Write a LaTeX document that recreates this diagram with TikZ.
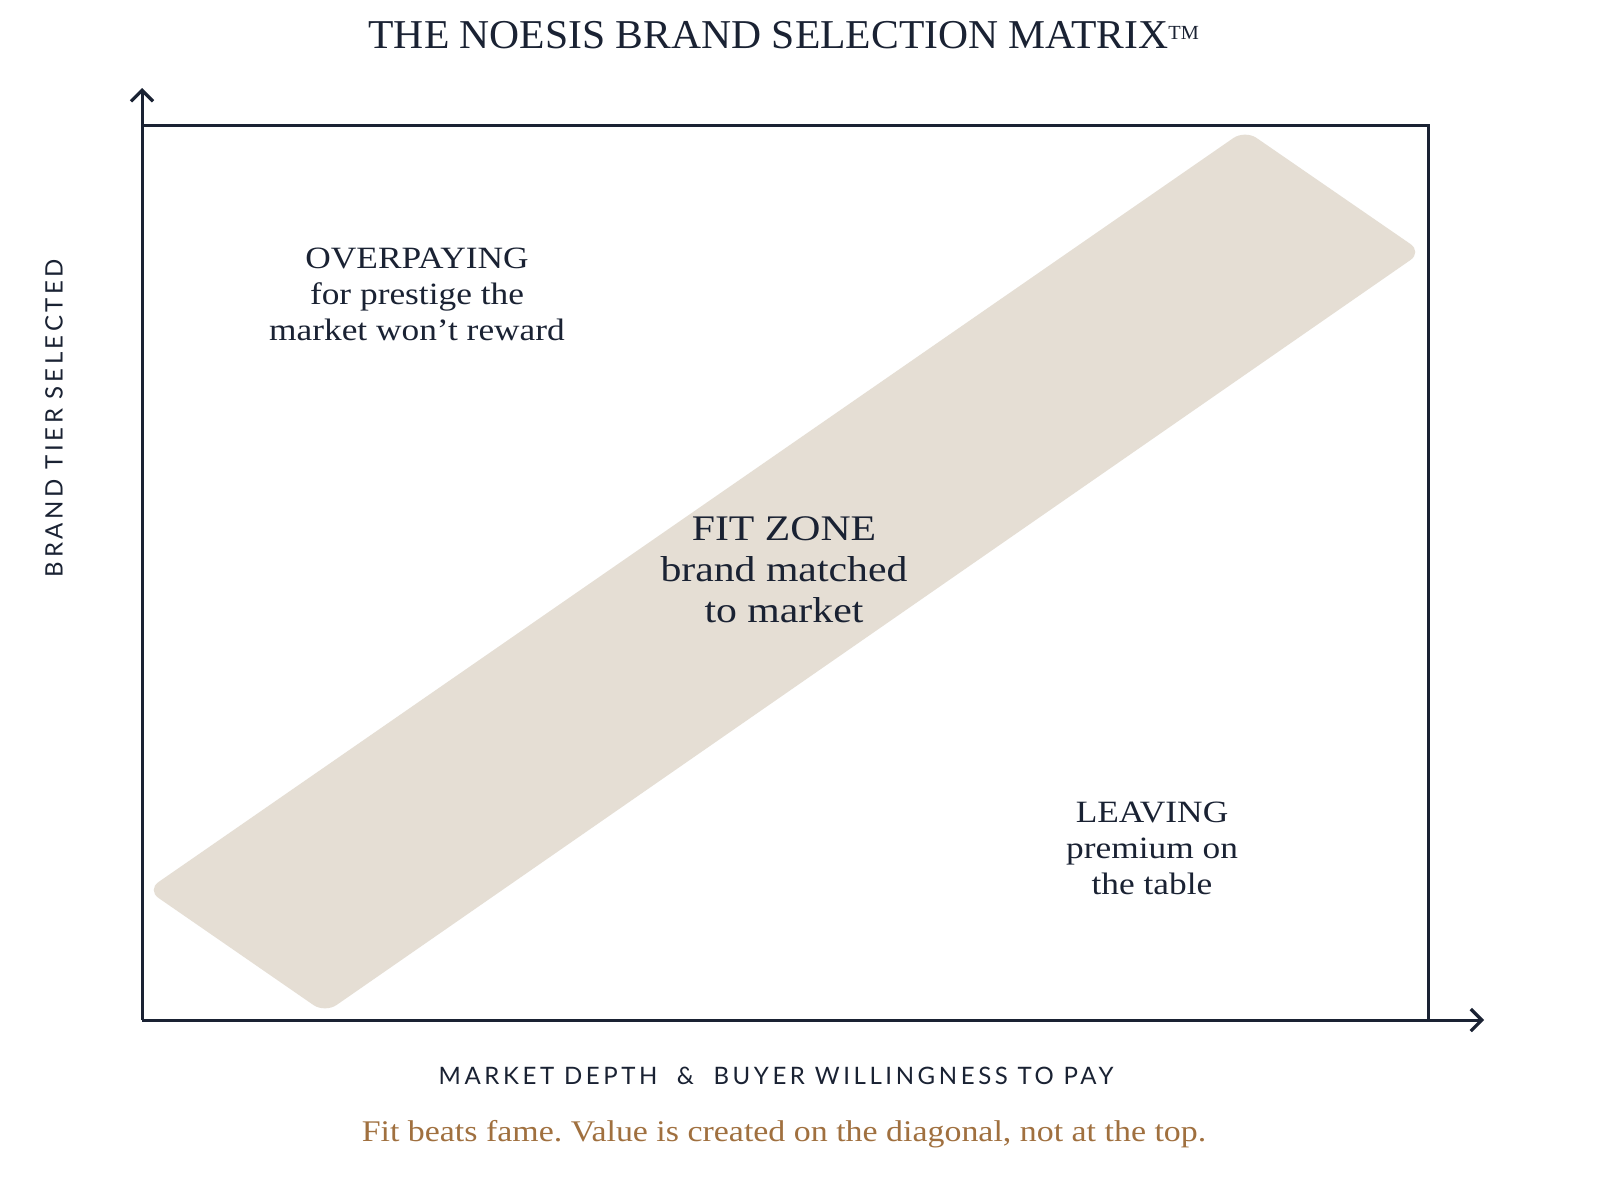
\documentclass[tikz,border=0pt]{standalone}
\usepackage{fontspec}
\setmainfont{Liberation Serif}
\newfontfamily\titleserif{Liberation Serif}[FakeStretch=1.015]
\newfontfamily\wideserif{Liberation Serif}[FakeStretch=1.14]
\newfontfamily\fitserif{Liberation Serif}[FakeStretch=1.16]
\newfontfamily\capserif{Liberation Serif}[FakeStretch=1.13]
\newfontfamily\labelsans{Lato}[LetterSpace=15]
\usetikzlibrary{arrows.meta}
\definecolor{navy}{HTML}{1A2233}
\definecolor{band}{HTML}{E5DED4}
\definecolor{capbrown}{HTML}{A0703F}
\frenchspacing
\tikzset{
  axisline/.style={line width=3pt, draw=navy},
  axisarrow/.style={axisline, -{Straight Barb[length=11pt,width=22pt,line width=3.2pt]}},
  zonetext/.style={align=center, text=navy, font=\wideserif\fontsize{31}{36}\selectfont, inner sep=0pt},
  fittext/.style={align=center, text=navy, font=\fitserif\fontsize{36}{41}\selectfont, inner sep=0pt},
  axislabel/.style={text=navy, font=\labelsans\fontsize{24}{28}\selectfont, inner sep=0pt},
}
\begin{document}
\begin{tikzpicture}[x=1pt,y=-1pt]
\useasboundingbox[fill=white] (0,0) rectangle (1600,1191);
% band
\fill[band, rounded corners=14pt] (147,890) -- (1245,130) -- (1422,252) -- (325,1013) -- cycle;
% frame
\coordinate (o) at (142,1020);
\coordinate (ytip) at (142,88);
\coordinate (xtip) at (1484,1020);
\draw[axisline] (142,125) -- (1428,125) -- (1428,1020);
\draw[axisarrow] (o) -- (ytip);
\draw[axisarrow] (o) -- (xtip);
% title
\node[text=navy, font=\titleserif\fontsize{41}{44}\selectfont, inner sep=0pt] (title) at (784,35) {THE NOESIS BRAND SELECTION MATRIX\textsuperscript{\fontsize{20}{22}\selectfont TM}};
% zones
\node[zonetext] (over) at (417,294) {OVERPAYING\\for prestige the\\market won’t reward};
\node[fittext] (fit) at (784,570) {FIT ZONE\\brand matched\\to market};
\node[zonetext] (leave) at (1152,848) {LEAVING\\premium on\\the table};
% axis labels
\node[axislabel] (xlab) at (776,1076) {MARKET DEPTH \ \& \ BUYER WILLINGNESS TO PAY};
\node[axislabel, rotate=90] (ylab) at (54,418) {BRAND TIER SELECTED};
% caption
\node[text=capbrown, font=\capserif\fontsize{30}{32}\selectfont, inner sep=0pt] (cap) at (784,1134) {Fit beats fame. Value is created on the diagonal, not at the top.};
\end{tikzpicture}
\end{document}
